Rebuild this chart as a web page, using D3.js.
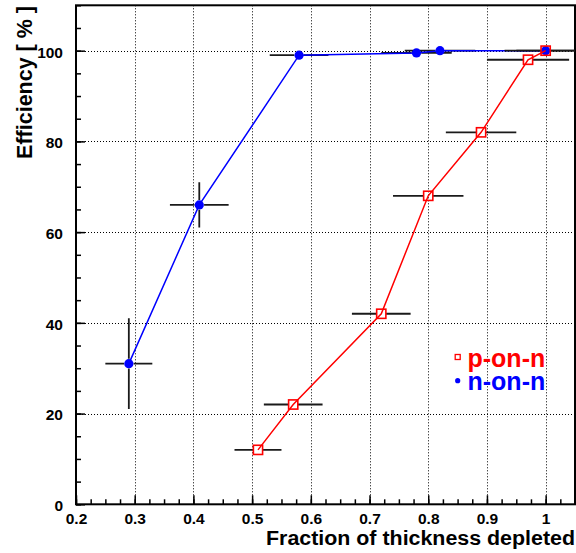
<!DOCTYPE html>
<html><head><meta charset="utf-8">
<script src="https://cdn.jsdelivr.net/npm/d3@7"></script>
<style>body{margin:0;background:#fff}svg{display:block}text{font-family:"Liberation Sans",Arial,sans-serif;font-weight:bold}</style>
</head><body><svg id="c" width="576" height="553"></svg>
<script>
// p-on-n (red, open squares)
const pX   = [0.51, 0.57, 0.72, 0.80, 0.89, 0.97, 1.00];
const pY   = [12, 22, 42, 68, 82, 98, 100];
const pXe  = [0.04, 0.05, 0.05, 0.06, 0.06, 0.07, 0.07];
const pYe  = [0, 0, 0, 0, 0, 0, 0];
// n-on-n (blue, filled circles)
const nX   = [0.29, 0.41, 0.58, 0.78, 0.82, 1.00];
const nY   = [31, 66, 99, 99.5, 100, 100];
const nXe  = [0.04, 0.05, 0.05, 0.06, 0.06, 0.05];
const nYe  = [10, 5, 0, 0, 0, 0];
const xTicks = [0.2, 0.3, 0.4, 0.5, 0.6, 0.7, 0.8, 0.9, 1.0];
const yTicks = [0, 20, 40, 60, 80, 100];
const legendLabels = ["p-on-n", "n-on-n"];
const xTitle = "Fraction of thickness depleted";
const yTitle = "Efficiency [ % ]";

const svg = d3.select("#c");
const L = 76, R = 575, T = 5.3, B = 504.3;
const x = d3.scaleLinear().domain([0.2, 1.05]).range([L, R]);
const y = d3.scaleLinear().domain([0, 110]).range([B, T]);

svg.append("defs").append("clipPath").attr("id","clip")
  .append("rect").attr("x",L).attr("y",T).attr("width",R-L).attr("height",B-T);

// grid
const grid = svg.append("g").attr("stroke","#000").attr("stroke-width",1).attr("stroke-dasharray","1,2");
grid.selectAll("line.v").data(xTicks.filter(d=>d>0.2)).join("line")
  .attr("x1",d=>Math.round(x(d))+0.5).attr("x2",d=>Math.round(x(d))+0.5).attr("y1",T).attr("y2",B);
grid.selectAll("line.h").data(yTicks.filter(d=>d>0)).join("line")
  .attr("y1",d=>Math.round(y(d))+0.5).attr("y2",d=>Math.round(y(d))+0.5).attr("x1",L).attr("x2",R);

// axes
const fmtX = d => d===1 ? "1" : d.toFixed(1);
const xMinor = d3.range(0.2, 1.0501, 0.025).map(v=>+v.toFixed(3));
const yMinor = d3.range(0, 110.01, 5);
const ax = svg.append("g").attr("transform",`translate(0,${B})`)
  .call(d3.axisBottom(x).tickValues(xMinor).tickSize(-5).tickFormat(""));
const ax2 = svg.append("g").attr("transform",`translate(0,${B})`)
  .call(d3.axisBottom(x).tickValues(xTicks).tickSize(-9).tickPadding(8.5).tickFormat(fmtX));
const ay = svg.append("g").attr("transform",`translate(${L},0)`)
  .call(d3.axisLeft(y).tickValues(yMinor).tickSize(-5).tickFormat(""));
const ay2 = svg.append("g").attr("transform",`translate(${L},0)`)
  .call(d3.axisLeft(y).tickValues(yTicks).tickSize(-9).tickPadding(13).tickFormat(d3.format("d")));
[ax,ax2,ay,ay2].forEach(g=>{g.select(".domain").remove();g.selectAll("line").attr("stroke","#000").attr("stroke-width",1.5);});
[ax2,ay2].forEach(g=>g.selectAll("text").attr("font-size",15.5).attr("font-family",'"Liberation Sans",Arial,sans-serif').attr("font-weight","bold").attr("fill","#000"));
ay2.selectAll("text").attr("dy","0.41em");

// frame
svg.append("rect").attr("x",L).attr("y",T).attr("width",R-L).attr("height",B-T)
  .attr("fill","none").attr("stroke","#000").attr("stroke-width",2);

function series(X, Y, Xe, Ye, color, marker){
  const g = svg.append("g").attr("clip-path","url(#clip)");
  const data = X.map((v,i)=>({x:v,y:Y[i],xe:Xe[i],ye:Ye[i]}));
  const gap = 4.8;
  const eb = g.append("g").attr("stroke","#1a1a1a").attr("stroke-width",1.8);
  data.forEach(d=>{
    const cx=x(d.x), cy=y(d.y);
    if(d.xe>0){
      eb.append("line").attr("x1",x(d.x-d.xe)).attr("x2",cx-gap).attr("y1",cy).attr("y2",cy);
      eb.append("line").attr("x1",cx+gap).attr("x2",x(d.x+d.xe)).attr("y1",cy).attr("y2",cy);
    }
    if(d.ye>0){
      eb.append("line").attr("y1",y(d.y-d.ye)).attr("y2",cy+gap).attr("x1",cx).attr("x2",cx);
      eb.append("line").attr("y1",cy-gap).attr("y2",y(d.y+d.ye)).attr("x1",cx).attr("x2",cx);
    }
  });
  g.append("path").datum(data).attr("fill","none").attr("stroke",color).attr("stroke-width",1.5)
    .attr("d",d3.line().x(d=>x(d.x)).y(d=>y(d.y)));
  if(marker==="square"){
    g.selectAll("rect.m").data(data).join("rect").attr("x",d=>x(d.x)-4.6).attr("y",d=>y(d.y)-4.6)
      .attr("width",9.2).attr("height",9.2).attr("fill","none").attr("stroke",color).attr("stroke-width",1.6);
  } else {
    g.selectAll("circle.m").data(data).join("circle").attr("cx",d=>x(d.x)).attr("cy",d=>y(d.y))
      .attr("r",4.6).attr("fill",color);
  }
}
series(nX, nY, nXe, nYe, "#0000ff", "circle");
series(pX, pY, pXe, pYe, "#ff0000", "square");

// legend
const lg = svg.append("g");
lg.append("rect").attr("x",455.2).attr("y",354.5).attr("width",5).attr("height",5)
  .attr("fill","none").attr("stroke","#ff0000").attr("stroke-width",1.3);
lg.append("circle").attr("cx",457.7).attr("cy",380.7).attr("r",2.6).attr("fill","#0000ff");
lg.append("text").attr("x",467.5).attr("y",366.7).attr("font-size",25).attr("fill","#ff0000").text(legendLabels[0]);
lg.append("text").attr("x",467.5).attr("y",390.3).attr("font-size",25).attr("fill","#0000ff").text(legendLabels[1]);

// titles
svg.append("text").attr("x",575).attr("y",544.5).attr("text-anchor","end").attr("font-size",19.5)
  .attr("textLength",309).attr("lengthAdjust","spacingAndGlyphs").text(xTitle);
svg.append("text").attr("transform","translate(32,6) rotate(-90)").attr("text-anchor","end")
  .attr("font-size",21.5).text(yTitle);
</script></body></html>
